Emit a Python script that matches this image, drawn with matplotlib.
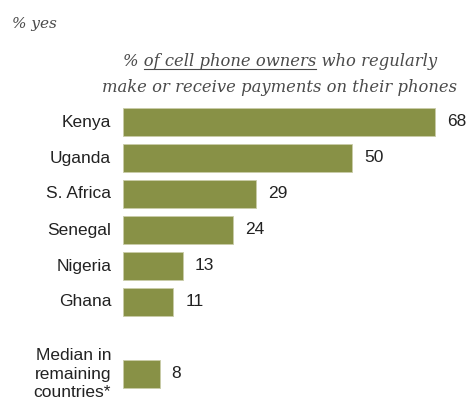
import matplotlib
matplotlib.use("Agg")
import matplotlib.pyplot as plt
from matplotlib.lines import Line2D

# data
countries = ["Kenya", "Uganda", "S. Africa", "Senegal", "Nigeria", "Ghana",
             "Median in\nremaining\ncountries*"]
values = [68, 50, 29, 24, 13, 11, 8]
positions = [0, 1, 2, 3, 4, 5, 7]

bar_color = "#889146"
text_color = "#222222"
serif_color = "#4a4a4a"

W, H = 470, 403
fig = plt.figure(figsize=(W / 100, H / 100), dpi=100)
ax = fig.add_axes([123 / W, 1 - 392 / H, 344 / W, 288 / H])

ax.barh(positions, values, height=0.78, color=bar_color, edgecolor="#c9cca8", linewidth=0.6)
ax.set_xlim(0, 75)
ax.set_ylim(7.5, -0.5)
ax.set_xticks([])
ax.set_yticks([])
for s in ax.spines.values():
    s.set_visible(False)

# category names left of the bars, values right of them
for name, p, v in zip(countries, positions, values):
    ax.annotate(name, (0, p), xytext=(-8.5, 0), textcoords="offset points",
                va="center", ha="right", multialignment="right", linespacing=1.3,
                fontsize=12.5, color=text_color, family="Liberation Sans",
                annotation_clip=False)
    ax.annotate(str(v), (v, p), xytext=(8.5, 0), textcoords="offset points",
                va="center", ha="left", fontsize=12.5, color=text_color,
                family="Liberation Sans")

# header texts
fig.text(12 / W, 1 - 24 / H, "% yes", fontsize=11, style="italic",
         family="DejaVu Serif", color=serif_color, va="center", ha="left")

line1 = "% of cell phone owners who regularly"
line2 = "make or receive payments on their phones"
cx = 280 / W
tsize = 11.8
t1 = fig.text(cx, 1 - 62 / H, line1, fontsize=tsize, style="italic",
              family="DejaVu Serif", color=serif_color, va="center", ha="center")
fig.text(cx, 1 - 88 / H, line2, fontsize=tsize, style="italic",
         family="DejaVu Serif", color=serif_color, va="center", ha="center")

# underline "of cell phone owners"
fig.canvas.draw()
r = fig.canvas.get_renderer()
bb = t1.get_window_extent(r)

def width_of(s):
    tmp = fig.text(0, 0, s, fontsize=tsize, style="italic", family="DejaVu Serif")
    w = tmp.get_window_extent(r).width
    tmp.remove()
    return w

x0 = bb.x0 + width_of("% ")
x1 = bb.x0 + width_of("% of cell phone owners")
uy = (bb.y0 + 2) / H
fig.add_artist(Line2D([x0 / W, x1 / W], [uy, uy], color=serif_color, linewidth=0.8))

fig.savefig("out.png", dpi=100)
